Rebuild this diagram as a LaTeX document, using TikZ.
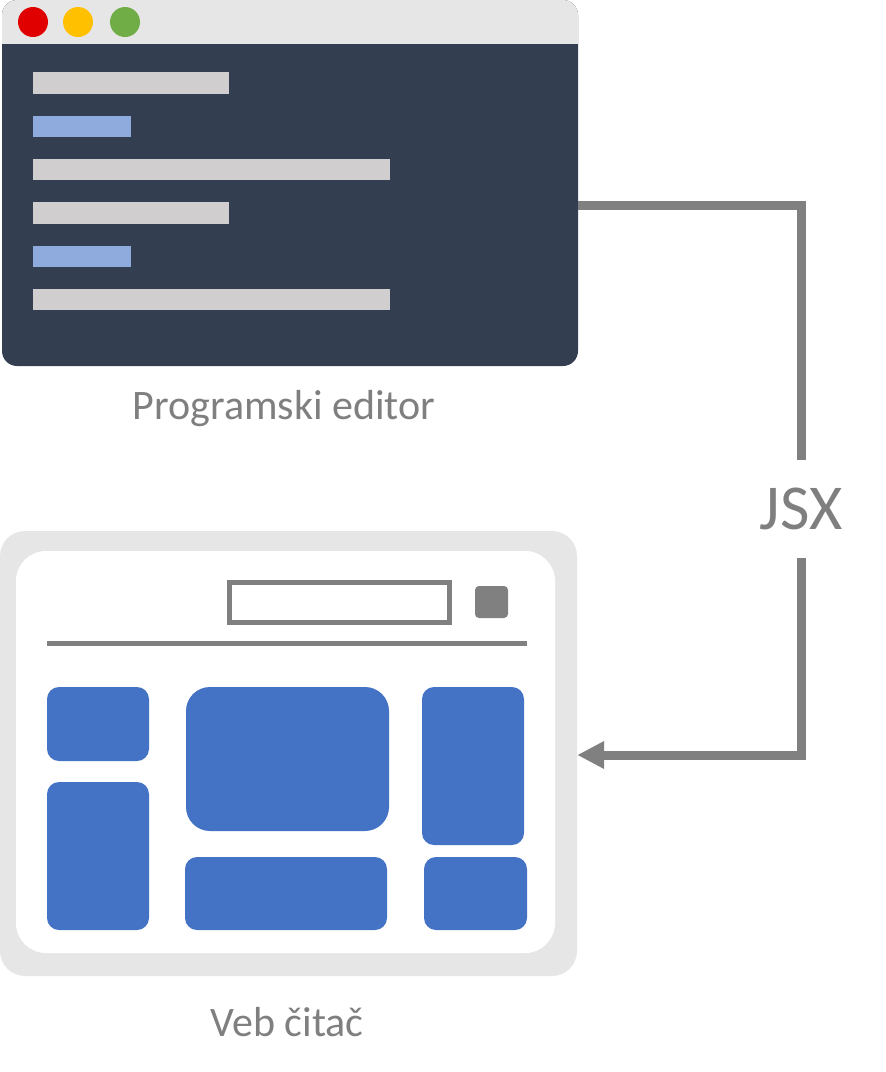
\documentclass[tikz,border=0pt]{standalone}
\usepackage{fontspec}
\setmainfont{Carlito}
\usetikzlibrary{arrows.meta}
\definecolor{edbody}{HTML}{333F50}
\definecolor{edbar}{HTML}{E7E6E6}
\definecolor{codegray}{HTML}{D0CECE}
\definecolor{codeblue}{HTML}{8FAADC}
\definecolor{dotred}{HTML}{E00000}
\definecolor{dotyellow}{HTML}{FFC000}
\definecolor{dotgreen}{HTML}{70AD47}
\definecolor{linegray}{HTML}{808080}
\definecolor{txtgray}{HTML}{7F7F7F}
\definecolor{boxblue}{HTML}{4472C4}
\begin{document}
\begin{tikzpicture}[x=1pt,y=-1pt,
  codeline/.style={fill=codegray,draw=none},
  codeblue line/.style={fill=codeblue,draw=none},
  tile/.style={fill=boxblue,draw=none,rounded corners=12pt},
  conn/.style={draw=linegray,line width=9pt},
  lbl/.style={text=txtgray,font=\fontsize{42}{50}\selectfont,anchor=base,inner sep=0pt}]
\useasboundingbox (0,0) rectangle (886,1072);
% editor window
\node[draw=none,fill=edbody,rounded corners=15pt,minimum width=576pt,minimum height=366pt,inner sep=0pt] (editor) at (290,183) {};
\fill[edbar,rounded corners=15pt] (2,0) rectangle (578,60);
\fill[edbody] (2,44) rectangle (578,62);
\fill[dotred] (33,22) circle (15);
\fill[dotyellow] (78,22) circle (15);
\fill[dotgreen] (125,22) circle (15);
\fill[codeline] (33,72) rectangle (229,94);
\fill[codeblue line] (33,116) rectangle (131,137);
\fill[codeline] (33,159) rectangle (390,180);
\fill[codeline] (33,202) rectangle (229,224);
\fill[codeblue line] (33,246) rectangle (131,267);
\fill[codeline] (33,289) rectangle (390,310);
\node[lbl] (edlabel) at (284,419) {Programski editor};
% browser
\node[draw=none,fill=edbar,rounded corners=25pt,minimum width=577pt,minimum height=445pt,inner sep=0pt] (browser) at (288.5,753.5) {};
\fill[white,rounded corners=30pt] (16,551) rectangle (555,953);
\draw[linegray,line width=5pt] (229.5,582.5) rectangle (449.5,622.5);
\fill[linegray,rounded corners=4pt] (475,586) rectangle (508,618);
\draw[linegray,line width=5pt] (47,643) -- (527,643);
\fill[tile] (47,687) rectangle (149,761);
\fill[tile] (47,782) rectangle (149,930);
\fill[tile,rounded corners=24pt] (186,687) rectangle (389,831);
\fill[tile] (185,857) rectangle (387,930);
\fill[tile] (422,687) rectangle (524,845);
\fill[tile] (424,857) rectangle (527,930);
\node[lbl] (brlabel) at (287,1036) {Veb čitač};
% connector
\node[text=txtgray,font=\fontsize{64}{70}\selectfont,minimum height=98pt,inner sep=0pt] (jsx) at (801,509) {\raisebox{-3pt}{JSX}};
\draw[conn] ([yshift=-22.5pt]editor.east) -| (jsx.north);
\draw[conn,-{Triangle[length=27pt,width=26pt]}] (jsx.south) |- ([yshift=-1.5pt]browser.east);
\end{tikzpicture}
\end{document}
